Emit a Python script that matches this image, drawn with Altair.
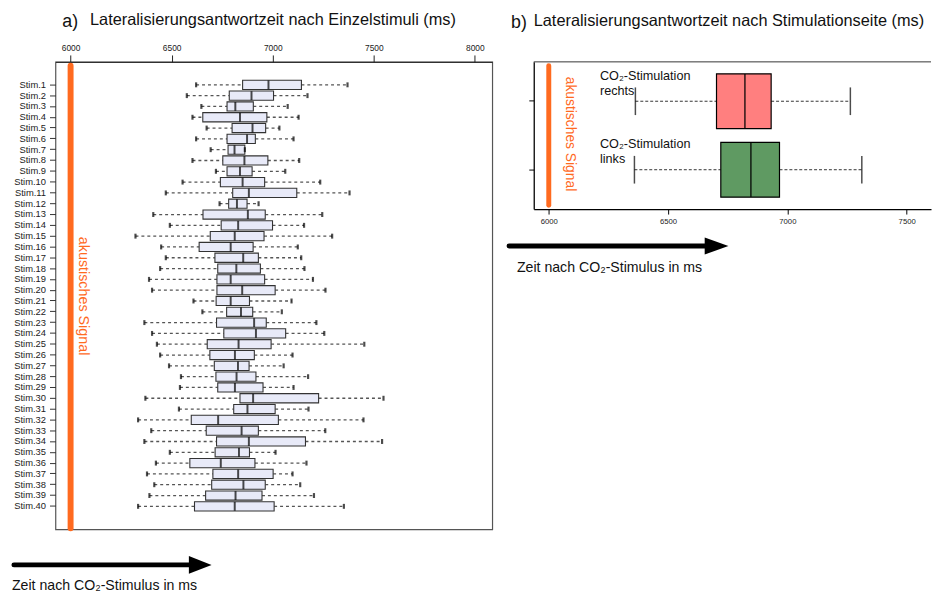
import altair as alt
import pandas as pd

# ---------------- data: panel a (single stimuli) ----------------
stims = [f"Stim.{i}" for i in range(1, 41)]
lo = [6621, 6575, 6647, 6603, 6673, 6621, 6693, 6603, 6719, 6554,
      6471, 6737, 6409, 6491, 6321, 6448, 6471, 6443, 6388, 6403,
      6608, 6652, 6365, 6403, 6427, 6443, 6487, 6546, 6541, 6370,
      6536, 6334, 6399, 6365, 6491, 6422, 6378, 6414, 6390, 6334]
q1 = [6851, 6785, 6774, 6654, 6799, 6774, 6779, 6753, 6774, 6741,
      6802, 6782, 6655, 6745, 6691, 6636, 6714, 6728, 6724, 6724,
      6720, 6772, 6722, 6758, 6676, 6689, 6711, 6719, 6728, 6838,
      6807, 6597, 6671, 6722, 6715, 6590, 6704, 6698, 6668, 6613]
med = [6979, 6895, 6815, 6838, 6900, 6873, 6811, 6860, 6838, 6851,
       6882, 6823, 6877, 6829, 6812, 6792, 6854, 6820, 6792, 6849,
       6792, 6843, 6908, 6917, 6831, 6813, 6828, 6821, 6813, 6903,
       6875, 6730, 6846, 6882, 6833, 6743, 6829, 6855, 6816, 6812]
q3 = [7142, 7004, 6904, 6971, 6965, 6914, 6862, 6976, 6898, 6960,
      7119, 6873, 6963, 6999, 6957, 6903, 6929, 6939, 6960, 7012,
      6885, 6901, 6968, 7064, 6992, 6909, 6883, 6917, 6952, 7227,
      7012, 7028, 6929, 7162, 6885, 6912, 7002, 6963, 6947, 7007]
hi = [7370, 7172, 7074, 7128, 7033, 7103, 6862, 7131, 7062, 7235,
      7380, 6930, 7245, 7155, 7294, 7124, 7141, 7157, 7199, 7261,
      7093, 7045, 7216, 7255, 7453, 7098, 7054, 7175, 7103, 7548,
      7177, 7449, 7260, 7541, 7014, 7167, 7098, 7136, 7204, 7352]

# ---------------- data: panel b (stimulation side) ----------------
sides = ["rechts", "links"]
b_lo = [6363, 6359]
b_q1 = [6703, 6721]
b_med = [6822, 6847]
b_q3 = [6932, 6967]
b_hi = [7264, 7312]
side_colors = ["#FF7F7F", "#5F9A62"]

signal_ms = 6000
ticks_a = [6000, 6500, 7000, 7500, 8000]
ticks_b = [6000, 6500, 7000, 7500]

title_a = "Lateralisierungsantwortzeit nach Einzelstimuli (ms)"
title_b = "Lateralisierungsantwortzeit nach Stimulationseite (ms)"
signal_text = "akustisches Signal"
arrow_text = "Zeit nach CO₂-Stimulus in ms"

FONT = "Liberation Sans"
ORANGE = "#FF6A1F"
WA, HA = 442, 473
WB, HB = 402, 149

one = pd.DataFrame({"t": [signal_ms]})

# ================= panel a =================
df_a = pd.DataFrame(dict(stim=stims, lo=lo, q1=q1, med=med, q3=q3, hi=hi))
xa = alt.Scale(domain=[5925, 8086], nice=False, zero=False)
ya = alt.Scale(domain=["_top"] + stims + ["_bottom"], paddingInner=0.15, paddingOuter=0.70)
xaxis_a = alt.Axis(orient="top", values=ticks_a, title=None, grid=False,
                   labelFontSize=8.5, tickSize=7, labelPadding=3, format="d",
                   domainColor="#222", tickColor="#222", labelColor="#222")
yaxis_a = alt.Axis(title=None, values=stims, labelFontSize=9.5, tickSize=6, labelPadding=4,
                   domain=False, tickColor="#333", labelColor="#222")

base_a = alt.Chart(df_a).encode(y=alt.Y("stim:N", scale=ya, axis=yaxis_a))
wl_a = base_a.mark_rule(strokeDash=[3, 3], color="#555", strokeWidth=1.3).encode(
    x=alt.X("lo:Q", scale=xa, axis=xaxis_a), x2="q1:Q")
wh_a = base_a.mark_rule(strokeDash=[3, 3], color="#555", strokeWidth=1.3).encode(
    x=alt.X("q3:Q", scale=xa, axis=xaxis_a), x2="hi:Q")
box_a = base_a.mark_bar(fill="#E8EAF8", stroke="#333", strokeWidth=1.1).encode(
    x=alt.X("q1:Q", scale=xa, axis=xaxis_a), x2="q3:Q")
med_a = base_a.mark_tick(color="black", thickness=2, size=9).encode(
    x=alt.X("med:Q", scale=xa, axis=xaxis_a))
cl_a = base_a.mark_tick(color="black", thickness=2.2, size=5).encode(
    x=alt.X("lo:Q", scale=xa, axis=xaxis_a))
ch_a = base_a.mark_tick(color="black", thickness=2.2, size=5).encode(
    x=alt.X("hi:Q", scale=xa, axis=xaxis_a))

sig_a = alt.Chart(one).mark_rule(color=ORANGE, strokeWidth=6, strokeCap="round").encode(
    x=alt.X("t:Q", scale=xa, axis=xaxis_a), y=alt.value(4), y2=alt.value(HA - 1))
sigtxt_a = alt.Chart(one).mark_text(angle=90, color=ORANGE, fontSize=14.5, align="center",
                                    baseline="middle").encode(
    x=alt.value(28), y=alt.value(237), text=alt.value(signal_text))

tA1 = alt.Chart(one).mark_text(fontSize=18, align="left", baseline="alphabetic", color="#111").encode(
    x=alt.value(7), y=alt.value(-35), text=alt.value("a)"))
tA2 = alt.Chart(one).mark_text(fontSize=16.5, align="left", baseline="alphabetic", color="#111").encode(
    x=alt.value(35), y=alt.value(-37), text=alt.value(title_a))

arr_a = alt.Chart(one).mark_rule(color="black", strokeWidth=5, strokeCap="round").encode(
    x=alt.value(-42), x2=alt.value(138), y=alt.value(509))
head_a = alt.Chart(one).mark_point(shape="M -1 -0.78 L 1 0 L -1 0.78 Z", filled=True, opacity=1,
                                   color="black", size=529).encode(
    x=alt.value(146.5), y=alt.value(509))
atxt_a = alt.Chart(one).mark_text(fontSize=14.3, align="left", baseline="alphabetic", color="#111").encode(
    x=alt.value(-44), y=alt.value(534), text=alt.value(arrow_text))

panel_a = alt.layer(wl_a, wh_a, box_a, med_a, cl_a, ch_a, sig_a, sigtxt_a,
                    tA1, tA2, arr_a, head_a, atxt_a).properties(
    width=WA, height=HA, view=alt.ViewBackground(stroke="#555", strokeWidth=1.2))

# ================= panel b =================
df_b = pd.DataFrame(dict(side=sides, lo=b_lo, q1=b_q1, med=b_med, q3=b_q3, hi=b_hi,
                         label=[f"CO₂-Stimulation\n{s}" for s in sides]))
xb = alt.Scale(domain=[5937, 7602], nice=False, zero=False)
yb = alt.Scale(domain=sides, paddingInner=0.2, paddingOuter=0.175)
xaxis_b = alt.Axis(values=ticks_b, title=None, grid=False, labelFontSize=7.8, tickSize=5,
                   labelPadding=4, format="d", domainColor="black", tickColor="black",
                   labelColor="#222", domainWidth=1.3)
yaxis_b = alt.Axis(title=None, labels=False, tickSize=5, domainColor="black",
                   tickColor="black", domainWidth=1.3)

base_b = alt.Chart(df_b).encode(y=alt.Y("side:N", sort=sides, scale=yb, axis=yaxis_b))
wl_b = base_b.mark_rule(strokeDash=[3, 2], color="#333", strokeWidth=1).encode(
    x=alt.X("lo:Q", scale=xb, axis=xaxis_b), x2="q1:Q")
wh_b = base_b.mark_rule(strokeDash=[3, 2], color="#333", strokeWidth=1).encode(
    x=alt.X("q3:Q", scale=xb, axis=xaxis_b), x2="hi:Q")
box_b = base_b.mark_bar(stroke="black", strokeWidth=1.2, opacity=1).encode(
    x=alt.X("q1:Q", scale=xb, axis=xaxis_b), x2="q3:Q",
    color=alt.Color("side:N", scale=alt.Scale(domain=sides, range=side_colors), legend=None))
med_b = base_b.mark_tick(color="black", thickness=1.8, size=55).encode(
    x=alt.X("med:Q", scale=xb, axis=xaxis_b))
cl_b = base_b.mark_tick(color="black", thickness=1.5, size=28).encode(
    x=alt.X("lo:Q", scale=xb, axis=xaxis_b))
ch_b = base_b.mark_tick(color="black", thickness=1.5, size=28).encode(
    x=alt.X("hi:Q", scale=xb, axis=xaxis_b))
lab_b = base_b.mark_text(align="left", baseline="alphabetic", fontSize=12.8, lineBreak="\n",
                         lineHeight=15, dy=-21.5, color="#111").encode(
    x=alt.value(67), text="label:N")

top_b = alt.Chart(one).mark_rule(color="#333", strokeWidth=1).encode(
    x=alt.value(0), x2=alt.value(WB), y=alt.value(0))
sig_b = alt.Chart(one).mark_rule(color=ORANGE, strokeWidth=5, strokeCap="round").encode(
    x=alt.X("t:Q", scale=xb, axis=xaxis_b), y=alt.value(4), y2=alt.value(HB - 4))
sigtxt_b = alt.Chart(one).mark_text(angle=90, color=ORANGE, fontSize=14, align="center",
                                    baseline="middle").encode(
    x=alt.value(36.5), y=alt.value(73), text=alt.value(signal_text))

tB1 = alt.Chart(one).mark_text(fontSize=18, align="left", baseline="alphabetic", color="#111").encode(
    x=alt.value(-23), y=alt.value(-34), text=alt.value("b)"))
tB2 = alt.Chart(one).mark_text(fontSize=16.5, align="left", baseline="alphabetic", color="#111").encode(
    x=alt.value(0), y=alt.value(-36), text=alt.value(title_b))

arr_b = alt.Chart(one).mark_rule(color="black", strokeWidth=5, strokeCap="round").encode(
    x=alt.value(-25), x2=alt.value(176), y=alt.value(186.3))
head_b = alt.Chart(one).mark_point(shape="M -1 -0.71 L 1 0 L -1 0.71 Z", filled=True, opacity=1,
                                   color="black", size=576).encode(
    x=alt.value(185), y=alt.value(186.3))
atxt_b = alt.Chart(one).mark_text(fontSize=14.3, align="left", baseline="alphabetic", color="#111").encode(
    x=alt.value(-17), y=alt.value(212.7), text=alt.value(arrow_text))

panel_b = alt.layer(top_b, wl_b, wh_b, box_b, med_b, cl_b, ch_b, lab_b, sig_b, sigtxt_b,
                    tB1, tB2, arr_b, head_b, atxt_b).properties(
    width=WB, height=HB, view=alt.ViewBackground(stroke=None))

chart = alt.hconcat(panel_a, panel_b, spacing=42, bounds="flush").properties(
    padding={"left": 2, "top": 0, "right": 0, "bottom": 0}
).configure(font=FONT).configure_view(stroke=None)

chart.save("out.html", embed_options={"renderer": "svg", "actions": False})
